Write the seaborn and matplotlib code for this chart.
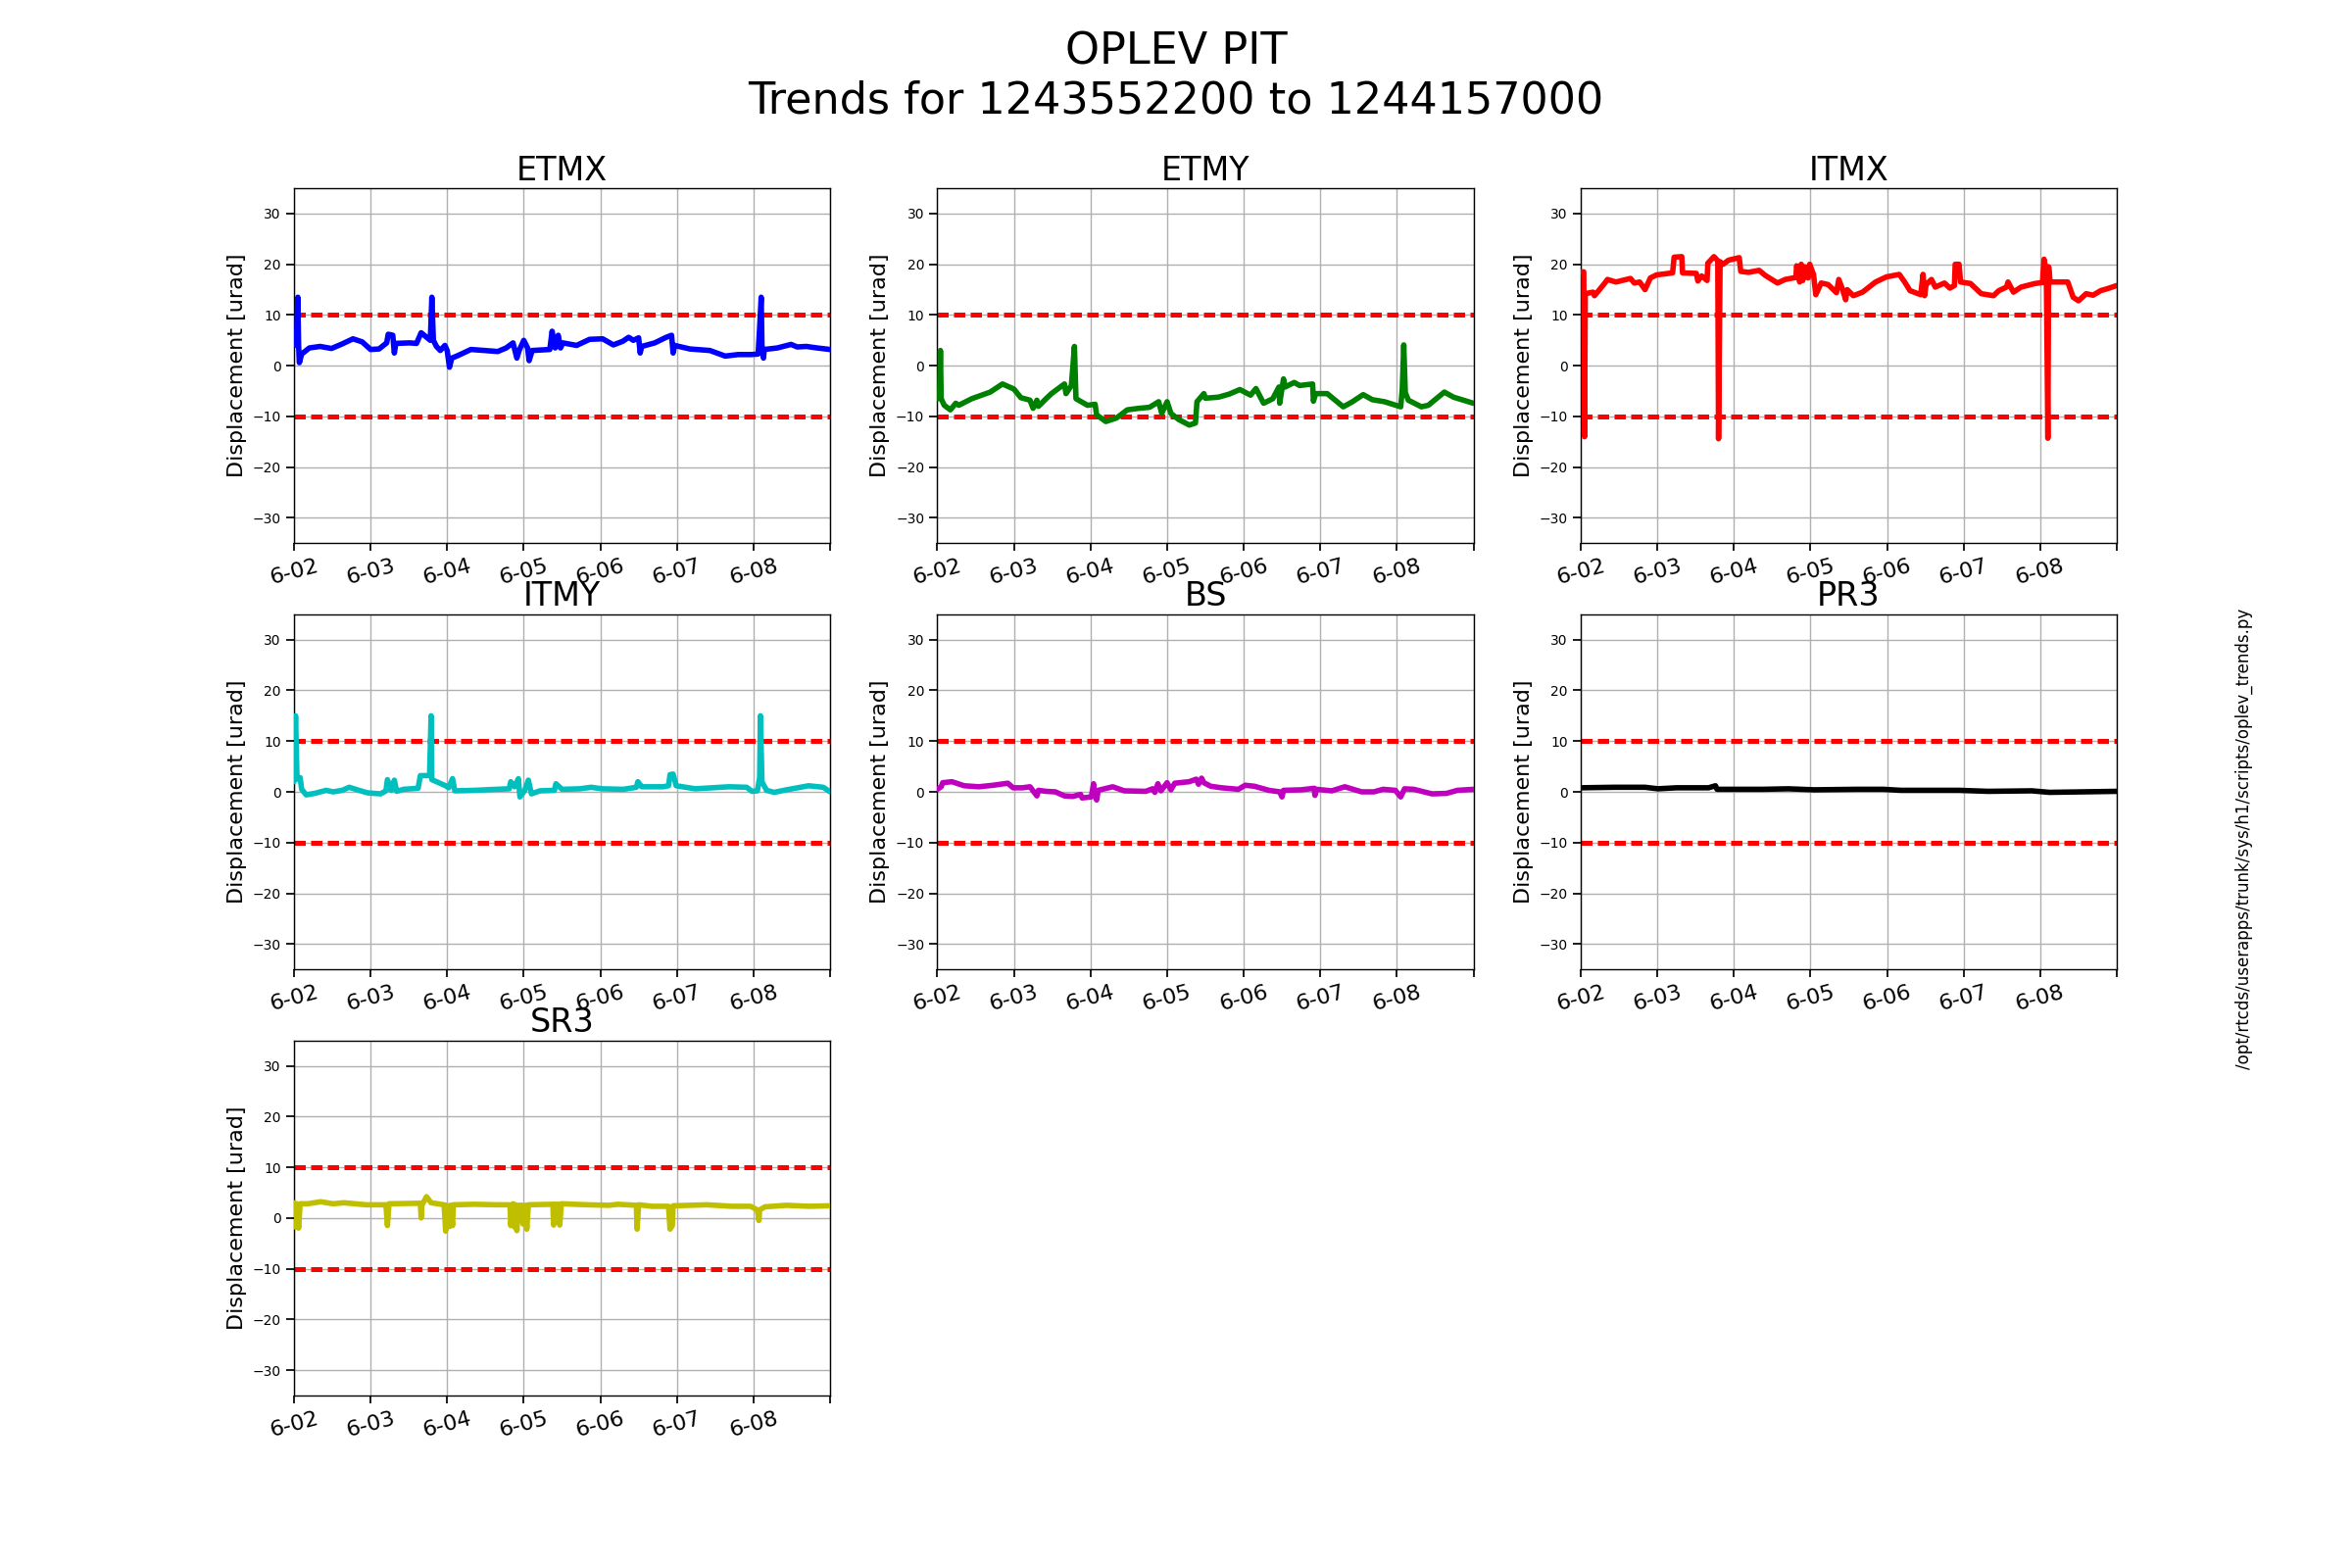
import matplotlib
matplotlib.use("Agg")
import matplotlib.pyplot as plt
import numpy as np
import pandas as pd
import seaborn as sns

# time in days since 6-02 00:00, displacement in urad
etmx_t = [0, 0.03, 0.05, 0.06, 0.07, 0.10, 0.2, 0.34, 0.49, 0.63, 0.77, 0.89, 1.0, 1.11,
          1.21, 1.23, 1.29, 1.31, 1.33, 1.51, 1.60, 1.66, 1.74, 1.78, 1.80, 1.82, 1.86, 1.91,
          1.97, 2.0, 2.03, 2.06, 2.14, 2.31, 2.49, 2.66, 2.77, 2.86, 2.91, 2.94, 3.0, 3.05,
          3.07, 3.11, 3.34, 3.37, 3.41, 3.45, 3.48, 3.51, 3.69, 3.86, 4.03, 4.17, 4.29, 4.37,
          4.43, 4.50, 4.52, 4.54, 4.71, 4.86, 4.93, 4.95, 4.97, 5.17, 5.43, 5.63, 5.80, 5.97,
          6.06, 6.08, 6.10, 6.11, 6.13, 6.14, 6.31, 6.49, 6.57, 6.69, 6.83, 7.0]
etmx_v = [5.0, 4.0, 13.5, 4.0, 0.6, 2.3, 3.5, 3.8, 3.4, 4.3, 5.3, 4.7, 3.2, 3.3,
          4.5, 6.2, 6.0, 2.5, 4.4, 4.5, 4.4, 6.5, 5.5, 5.0, 13.5, 5.0, 3.8, 3.0,
          4.0, 3.0, -0.3, 1.5, 2.0, 3.2, 3.0, 2.8, 3.5, 4.5, 1.5, 3.0, 5.0, 3.5,
          1.0, 3.0, 3.2, 6.8, 3.5, 6.0, 3.5, 4.5, 4.0, 5.2, 5.3, 4.1, 4.8, 5.6,
          5.0, 5.5, 2.5, 3.8, 4.5, 5.6, 6.0, 2.5, 4.0, 3.3, 3.0, 1.9, 2.2, 2.2,
          2.3, 7.5, 13.5, 4.0, 1.5, 3.2, 3.5, 4.2, 3.7, 3.8, 3.5, 3.2]

etmy_t = [0.01, 0.03, 0.04, 0.05, 0.09, 0.17, 0.24, 0.28, 0.45, 0.69, 0.85, 1.0, 1.09, 1.21,
          1.25, 1.30, 1.32, 1.42, 1.49, 1.66, 1.68, 1.75, 1.79, 1.81, 1.96, 2.06, 2.08, 2.20,
          2.34, 2.48, 2.63, 2.77, 2.89, 2.93, 3.0, 3.05, 3.15, 3.29, 3.37, 3.39, 3.48, 3.50,
          3.67, 3.81, 3.95, 4.09, 4.16, 4.26, 4.38, 4.46, 4.47, 4.52, 4.54, 4.66, 4.73, 4.90,
          4.91, 4.94, 5.09, 5.30, 5.42, 5.56, 5.68, 5.84, 6.05, 6.07, 6.09, 6.11, 6.15, 6.32,
          6.41, 6.62, 6.74, 7.0]
etmy_v = [-6.5, -5.0, 3.0, -6.5, -7.8, -8.7, -7.4, -7.8, -6.5, -5.2, -3.6, -4.6, -6.3, -6.8,
          -8.4, -6.8, -8.0, -6.5, -5.5, -3.6, -5.5, -3.9, 3.8, -6.5, -7.8, -7.6, -9.7, -11.0,
          -10.3, -8.7, -8.4, -8.2, -7.1, -9.4, -7.1, -9.4, -10.6, -11.7, -11.3, -7.1, -5.5, -6.4,
          -6.2, -5.6, -4.7, -5.8, -4.5, -7.4, -6.5, -4.2, -7.4, -2.6, -4.2, -3.3, -3.9, -3.6,
          -7.0, -5.5, -5.5, -8.1, -7.1, -5.7, -6.7, -7.1, -8.1, -4.8, 4.1, -5.3, -6.8, -8.1,
          -7.8, -5.2, -6.2, -7.4]

itmx_t = [0, 0.04, 0.05, 0.06, 0.16, 0.18, 0.30, 0.35, 0.46, 0.65, 0.70, 0.77, 0.84, 0.91,
          0.99, 1.20, 1.22, 1.32, 1.33, 1.51, 1.53, 1.58, 1.65, 1.66, 1.74, 1.79, 1.80, 1.82,
          1.86, 1.93, 2.07, 2.09, 2.19, 2.33, 2.41, 2.57, 2.67, 2.81, 2.82, 2.86, 2.88, 2.90,
          2.93, 2.97, 2.99, 3.04, 3.07, 3.14, 3.23, 3.34, 3.37, 3.42, 3.46, 3.48, 3.56, 3.68,
          3.85, 3.99, 4.16, 4.23, 4.30, 4.44, 4.47, 4.49, 4.51, 4.58, 4.63, 4.75, 4.82, 4.88,
          4.89, 4.94, 4.96, 5.09, 5.23, 5.39, 5.46, 5.56, 5.58, 5.65, 5.75, 5.93, 6.03, 6.05,
          6.08, 6.10, 6.11, 6.13, 6.36, 6.43, 6.50, 6.60, 6.69, 6.79, 6.88, 7.0]
itmx_v = [18.5, 18.5, -14.0, 14.2, 14.5, 13.8, 16.0, 17.0, 16.5, 17.2, 16.3, 16.5, 15.0, 17.3,
          17.9, 18.3, 21.4, 21.5, 18.3, 18.2, 16.7, 17.7, 16.8, 20.2, 21.5, 20.7, -14.4, 20.5,
          20.0, 20.8, 21.3, 18.6, 18.4, 18.8, 17.8, 16.3, 17.0, 17.4, 19.7, 16.5, 20.0, 16.8,
          19.5, 17.3, 20.0, 18.0, 14.0, 16.3, 16.0, 14.4, 17.0, 15.0, 13.0, 15.0, 13.8, 14.5,
          16.5, 17.5, 18.0, 16.5, 14.8, 14.0, 18.0, 13.8, 16.0, 17.0, 15.5, 16.3, 15.3, 15.8,
          20.0, 20.0, 16.5, 16.2, 14.2, 13.8, 14.8, 15.5, 16.5, 14.5, 15.5, 16.2, 16.4, 21.0,
          18.5, -14.3, 19.5, 16.5, 16.5, 13.5, 12.8, 14.2, 13.9, 14.8, 15.2, 15.8]

itmy_t = [0, 0.02, 0.04, 0.08, 0.10, 0.16, 0.27, 0.42, 0.51, 0.63, 0.72, 0.87, 0.96, 1.13,
          1.20, 1.22, 1.27, 1.31, 1.34, 1.43, 1.62, 1.65, 1.77, 1.79, 1.80, 1.98, 2.02, 2.07,
          2.10, 2.36, 2.64, 2.81, 2.83, 2.88, 2.93, 2.95, 3.01, 3.06, 3.10, 3.21, 3.40, 3.42,
          3.50, 3.73, 3.88, 4.02, 4.30, 4.47, 4.49, 4.54, 4.82, 4.89, 4.91, 4.95, 4.99, 5.24,
          5.68, 5.91, 5.98, 6.05, 6.08, 6.09, 6.11, 6.17, 6.27, 6.43, 6.72, 6.91, 7.0]
itmy_v = [2.0, 15.0, 2.5, 2.8, 0.5, -0.6, -0.3, 0.3, 0.0, 0.3, 0.9, 0.2, -0.2, -0.4,
          0.2, 2.4, 0.3, 2.3, 0.1, 0.5, 0.7, 3.2, 3.2, 15.0, 2.4, 1.2, 0.8, 2.6,
          0.2, 0.3, 0.5, 0.6, 2.0, 1.0, 2.6, -1.0, 0.2, 2.3, -0.4, 0.2, 0.3, 1.6,
          0.5, 0.6, 0.9, 0.6, 0.5, 0.9, 2.0, 1.0, 1.0, 1.2, 3.4, 3.5, 1.2, 0.6,
          1.0, 0.9, 0.1, 0.2, 2.8, 15.0, 2.0, 0.3, -0.1, 0.4, 1.2, 0.9, 0.0]

bs_t = [0, 0.05, 0.07, 0.19, 0.35, 0.54, 0.73, 0.92, 0.99, 1.11, 1.21, 1.25, 1.30, 1.32,
        1.42, 1.54, 1.66, 1.77, 1.87, 1.89, 2.01, 2.04, 2.05, 2.08, 2.10, 2.29, 2.44, 2.72,
        2.81, 2.84, 2.88, 2.92, 3.0, 3.05, 3.10, 3.29, 3.38, 3.41, 3.45, 3.48, 3.57, 3.71,
        3.93, 4.02, 4.14, 4.33, 4.47, 4.50, 4.52, 4.75, 4.92, 4.93, 4.95, 5.15, 5.32, 5.54,
        5.70, 5.82, 5.98, 6.05, 6.10, 6.22, 6.46, 6.65, 6.79, 7.0]
bs_v = [0.5, 1.0, 1.8, 2.0, 1.2, 1.0, 1.3, 1.7, 0.8, 0.8, 1.0, 0.2, -0.8, 0.3,
        0.1, 0.0, -0.8, -0.9, -0.5, -1.2, -1.0, 1.6, -0.5, -1.6, 0.3, 1.0, 0.2, 0.1,
        0.6, -0.1, 1.6, 0.2, 1.8, 0.4, 1.7, 2.0, 2.5, 1.5, 2.7, 1.8, 1.1, 0.8,
        0.5, 1.3, 1.1, 0.3, 0.0, -1.0, 0.3, 0.4, 0.7, -0.7, 0.5, 0.2, 1.0, 0.0,
        0.0, 0.5, 0.3, -1.0, 0.6, 0.5, -0.4, -0.3, 0.3, 0.5]

pr3_t = [0, 0.44, 0.84, 1.01, 1.25, 1.67, 1.76, 1.78, 2.0, 2.38, 2.71, 3.05, 3.61, 3.95,
         4.18, 4.94, 5.32, 5.89, 6.12, 7.0]
pr3_v = [0.8, 0.9, 0.9, 0.6, 0.8, 0.8, 1.2, 0.5, 0.5, 0.5, 0.6, 0.4, 0.5, 0.5,
         0.3, 0.3, 0.1, 0.2, -0.1, 0.1]

sr3_t = [0, 0.02, 0.04, 0.06, 0.08, 0.18, 0.35, 0.51, 0.65, 0.94, 1.20, 1.22, 1.24, 1.65,
         1.66, 1.67, 1.73, 1.79, 1.96, 1.98, 1.99, 2.03, 2.04, 2.07, 2.08, 2.36, 2.64, 2.82,
         2.83, 2.86, 2.88, 2.89, 2.91, 2.93, 2.98, 2.99, 3.02, 3.04, 3.06, 3.38, 3.39, 3.41,
         3.46, 3.47, 3.49, 3.83, 4.11, 4.23, 4.47, 4.48, 4.50, 4.68, 4.89, 4.91, 4.94, 4.95,
         5.39, 5.72, 5.96, 6.05, 6.07, 6.08, 6.15, 6.43, 6.72, 7.0]
sr3_v = [3.0, -1.8, 2.8, -2.0, 2.8, 2.8, 3.2, 2.8, 3.0, 2.6, 2.6, -1.5, 2.8, 2.9,
         0.0, 2.5, 4.2, 3.0, 2.6, -2.6, 2.5, -1.7, 2.5, -1.5, 2.6, 2.7, 2.6, 2.6,
         -1.5, 2.8, -1.8, 2.6, -2.5, 2.5, 2.5, -1.2, 2.5, -2.2, 2.6, 2.7, -1.4, 2.7,
         2.7, -1.4, 2.8, 2.6, 2.5, 2.7, 2.5, -2.2, 2.6, 2.3, 2.3, -2.2, -1.5, 2.4,
         2.6, 2.3, 2.3, 1.6, -0.5, 1.6, 2.2, 2.5, 2.3, 2.4]

optics = ["ETMX", "ETMY", "ITMX", "ITMY", "BS", "PR3", "SR3"]
colors = ["#0000ff", "#008000", "#ff0000", "#00bfbf", "#bf00bf", "#000000", "#bfbf00"]
series = {
    "ETMX": (etmx_t, etmx_v), "ETMY": (etmy_t, etmy_v), "ITMX": (itmx_t, itmx_v),
    "ITMY": (itmy_t, itmy_v), "BS": (bs_t, bs_v), "PR3": (pr3_t, pr3_v),
    "SR3": (sr3_t, sr3_v),
}
day_labels = ["6-02", "6-03", "6-04", "6-05", "6-06", "6-07", "6-08", ""]
limit = 10

sns.set_theme(style="ticks", rc={"axes.grid": True, "grid.color": "#b0b0b0",
                                 "grid.linewidth": 1.0, "axes.edgecolor": "black",
                                 "axes.linewidth": 1.0, "xtick.color": "black",
                                 "ytick.color": "black", "text.color": "black",
                                 "axes.labelcolor": "black"})
plt.rcParams["font.family"] = ["DejaVu Sans"]

fig, axes = plt.subplots(3, 3, figsize=(24, 16), dpi=100)
fig.subplots_adjust(left=0.125, right=0.9, top=0.88, bottom=0.11, wspace=0.2, hspace=0.2)

for i, name in enumerate(optics):
    ax = axes.flat[i]
    t, v = series[name]
    df = pd.DataFrame({"t": t, "v": v})
    sns.lineplot(data=df, x="t", y="v", ax=ax, color=colors[i], linewidth=4,
                 estimator=None, sort=False, zorder=3)
    ax.axhline(limit, color="#ff0000", linestyle=(0, (2.3, 1.1)), linewidth=3.6, zorder=2)
    ax.axhline(-limit, color="#ff0000", linestyle=(0, (2.3, 1.1)), linewidth=3.6, zorder=2)
    ax.set_xlim(0, 7)
    ax.set_ylim(-35, 35)
    ax.set_xticks(np.arange(8))
    ax.set_xticklabels(day_labels, rotation=15, fontsize=16)
    ax.set_yticks([-30, -20, -10, 0, 10, 20, 30])
    ax.tick_params(axis="y", labelsize=10)
    ax.set_xlabel("")
    ax.set_ylabel("Displacement [urad]", fontsize=16)
    ax.set_title(name, fontsize=24)
    ax.grid(True)

for ax in axes.flat[len(optics):]:
    ax.remove()

fig.suptitle("OPLEV PIT\nTrends for 1243552200 to 1244157000", fontsize=32, y=0.98)
fig.text(0.954, 0.465, "/opt/rtcds/userapps/trunk/sys/h1/scripts/oplev_trends.py",
         rotation=90, ha="center", va="center", fontsize=12)

fig.savefig("out.png", dpi=100)
